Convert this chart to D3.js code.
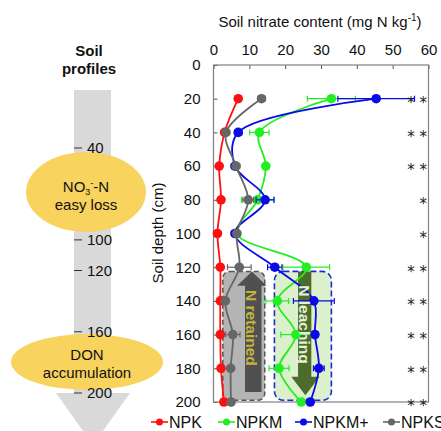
<!DOCTYPE html>
<html>
<head>
<meta charset="utf-8">
<script src="https://cdn.jsdelivr.net/npm/d3@7"></script>
<style>
  body { margin: 0; background: #fff; }
  text { font-family: "Liberation Sans", Arial, sans-serif; }
</style>
</head>
<body>
<svg id="chart" width="441" height="431"></svg>
<script>
// depths (cm) and nitrate content per treatment (mg N kg-1)
var depths = [20, 40, 60, 80, 100, 120, 140, 160, 180, 200];
var npk    = [6.9, 3.1, 1.6, 2.1, 1.1, 1.9, 1.9, 1.9, 2.1, 2.9];
var npkm   = [32.9, 12.8, 14.6, 12.3, 6.5, 25.9, 17.8, 23.0, 18.3, 24.5];
var npkmP  = [45.4, 6.9, 6.0, 14.4, 6.0, 17.1, 28.0, 28.3, 29.4, 27.0];
var npks   = [13.4, 3.5, 6.3, 9.7, 6.5, 7.2, 3.3, 5.4, 4.8, 4.9];
// error bars (sd)
var npkSd   = [0.5, 0.3, 0.3, 0.3, 0.3, 0.3, 0.3, 0.3, 0.3, 0.3];
var npkmSd  = [6.7, 2.7, 0.5, 4.5, 0.5, 6.5, 3.2, 4.2, 2.8, 0.5];
var npkmPSd = [10.7, 1.0, 1.0, 2.5, 1.0, 2.0, 5.7, 0.8, 1.5, 0.5];
var npksSd  = [1.0, 0.5, 1.0, 1.5, 0.8, 3.3, 0.5, 2.0, 0.5, 0.5];
var signif = ["* *", "* *", "* *", "*", "*", "* *", "* *", "* *", "* *", "* *"];
var xTicks = [0, 10, 20, 30, 40, 50, 60];
var yTicks = [0, 20, 40, 60, 80, 100, 120, 140, 160, 180, 200];
var profileTicks = [40, 100, 120, 160, 200];

var series = [
  {name: "NPK",   values: npk,   sd: npkSd,   color: "#ff1010"},
  {name: "NPKM",  values: npkm,  sd: npkmSd,  color: "#22ee22"},
  {name: "NPKM+", values: npkmP, sd: npkmPSd, color: "#0a0ae6"},
  {name: "NPKS",  values: npks,  sd: npksSd,  color: "#666666"}
];

var svg = d3.select("#chart");

// ---------- left: soil profile sketch ----------
var py = d3.scaleLinear().domain([40, 200]).range([148, 393]);
var left = svg.append("g");
left.append("rect").attr("x", 74).attr("y", 90).attr("width", 37)
  .attr("height", py(200) - 90).attr("fill", "#d9d9d9");
left.append("path")
  .attr("d", "M56," + py(200) + "L130," + py(200) + "L93," + (py(200) + 52) + "Z")
  .attr("fill", "#d9d9d9");

left.append("text").attr("x", 89).attr("y", 56).attr("text-anchor", "middle")
  .attr("font-size", 15).attr("font-weight", "bold").attr("fill", "#111").text("Soil");
left.append("text").attr("x", 89).attr("y", 74).attr("text-anchor", "middle")
  .attr("font-size", 15).attr("font-weight", "bold").attr("fill", "#111").text("profiles");

left.append("ellipse").attr("cx", 86).attr("cy", 192).attr("rx", 60).attr("ry", 40)
  .attr("fill", "#f8d35e");
var no3 = left.append("text").attr("x", 86).attr("y", 192).attr("text-anchor", "middle")
  .attr("font-size", 15).attr("fill", "#111");
no3.append("tspan").text("NO");
no3.append("tspan").attr("font-size", 9).attr("dy", 3).text("3");
no3.append("tspan").attr("font-size", 9).attr("dy", -9).text("-");
no3.append("tspan").attr("dy", 6).text("-N");
left.append("text").attr("x", 86).attr("y", 210).attr("text-anchor", "middle")
  .attr("font-size", 15).attr("fill", "#111").text("easy loss");

left.append("ellipse").attr("cx", 87).attr("cy", 362).attr("rx", 76).attr("ry", 28)
  .attr("fill", "#f8d35e");
left.append("text").attr("x", 87).attr("y", 360).attr("text-anchor", "middle")
  .attr("font-size", 15).attr("fill", "#111").text("DON");
left.append("text").attr("x", 87).attr("y", 378).attr("text-anchor", "middle")
  .attr("font-size", 15).attr("fill", "#111").text("accumulation");

left.selectAll(".ptick").data(profileTicks).enter().append("line")
  .attr("x1", 74).attr("x2", 82)
  .attr("y1", function(d){ return py(d); }).attr("y2", function(d){ return py(d); })
  .attr("stroke", "#333").attr("stroke-width", 1);
left.selectAll(".plab").data(profileTicks).enter().append("text")
  .attr("x", 87).attr("y", function(d){ return py(d); }).attr("dy", "0.35em")
  .attr("font-size", 15).attr("fill", "#111")
  .text(function(d){ return d; });

// ---------- right: nitrate profile chart ----------
var x = d3.scaleLinear().domain([0, 60]).range([213.5, 428.5]);
var y = d3.scaleLinear().domain([0, 200]).range([65, 402]);

svg.append("g").attr("transform", "translate(0,65)")
  .call(d3.axisTop(x).tickValues(xTicks).tickSizeInner(-4).tickSizeOuter(0).tickPadding(10))
  .call(function(g){
    g.select(".domain").remove();
    g.selectAll("line").attr("stroke", "#555");
    g.selectAll("text").attr("font-size", 15).attr("fill", "#111");
  });
svg.append("g").attr("transform", "translate(213.5,0)")
  .call(d3.axisLeft(y).tickValues(yTicks).tickSizeInner(-4).tickSizeOuter(0).tickPadding(13))
  .call(function(g){
    g.select(".domain").remove();
    g.selectAll("line").attr("stroke", "#555");
    g.selectAll("text").attr("font-size", 15).attr("fill", "#111");
  });

svg.append("rect").attr("x", x(0)).attr("y", y(0))
  .attr("width", x(60) - x(0)).attr("height", y(200) - y(0))
  .attr("fill", "none").attr("stroke", "#808080").attr("stroke-width", 1.2);

var title = svg.append("text").attr("x", 320).attr("y", 27).attr("text-anchor", "middle")
  .attr("font-size", 15).attr("fill", "#111");
title.append("tspan").text("Soil nitrate content (mg N kg");
title.append("tspan").attr("font-size", 10).attr("dy", -6).text("-1");
title.append("tspan").attr("dy", 6).text(")");

svg.append("text").attr("transform", "translate(163,233) rotate(-90)")
  .attr("text-anchor", "middle").attr("font-size", 15).attr("fill", "#111")
  .text("Soil depth (cm)");

// annotation boxes
svg.append("rect").attr("x", x(2.6)).attr("y", y(122.5))
  .attr("width", x(14.3) - x(2.6)).attr("height", y(199) - y(122.5))
  .attr("rx", 7).attr("fill", "#b4b4b4").attr("stroke", "#555")
  .attr("stroke-width", 1.5).attr("stroke-dasharray", "5,3");
svg.append("rect").attr("x", x(17)).attr("y", y(122.5))
  .attr("width", x(32.9) - x(17)).attr("height", y(199) - y(122.5))
  .attr("rx", 9).attr("fill", "#dcf0cc").attr("stroke", "#1a2ed0")
  .attr("stroke-width", 1.6).attr("stroke-dasharray", "6,3");

function arrowPath(xl, xr, hl, hr, yStart, yHead, yTip) {
  var xm = (hl + hr) / 2;
  return "M" + x(xl) + "," + y(yStart) + "L" + x(xl) + "," + y(yHead) +
    "L" + x(hl) + "," + y(yHead) + "L" + x(xm) + "," + y(yTip) +
    "L" + x(hr) + "," + y(yHead) + "L" + x(xr) + "," + y(yHead) +
    "L" + x(xr) + "," + y(yStart) + "Z";
}
svg.append("path").attr("d", arrowPath(8.8, 13.4, 6.6, 14.8, 194, 131, 122.5))
  .attr("fill", "#505050");
svg.append("path").attr("d", arrowPath(23.6, 27.3, 21.7, 29.6, 122.5, 185, 196))
  .attr("fill", "#4d6b2c");

// lines, error bars and points
var line = d3.line()
  .x(function(d){ return x(d.v); })
  .y(function(d){ return y(d.depth); })
  .curve(d3.curveCatmullRom.alpha(0.5));

series.forEach(function(s){
  var pts = depths.map(function(d, i){ return {depth: d, v: s.values[i], sd: s.sd[i]}; });
  var g = svg.append("g");
  g.append("path").attr("d", line(pts)).attr("fill", "none")
    .attr("stroke", s.color).attr("stroke-width", 1.8);
  var eb = g.selectAll(".eb").data(pts).enter().append("g");
  eb.append("line")
    .attr("x1", function(d){ return x(Math.max(0, d.v - d.sd)); })
    .attr("x2", function(d){ return x(d.v + d.sd); })
    .attr("y1", function(d){ return y(d.depth); }).attr("y2", function(d){ return y(d.depth); })
    .attr("stroke", s.color).attr("stroke-width", 1.2);
  [-1, 1].forEach(function(k){
    eb.append("line")
      .attr("x1", function(d){ return x(Math.max(0, d.v + k * d.sd)); })
      .attr("x2", function(d){ return x(Math.max(0, d.v + k * d.sd)); })
      .attr("y1", function(d){ return y(d.depth) - 3; })
      .attr("y2", function(d){ return y(d.depth) + 3; })
      .attr("stroke", s.color).attr("stroke-width", 1.2);
  });
  g.selectAll("circle").data(pts).enter().append("circle")
    .attr("cx", function(d){ return x(d.v); }).attr("cy", function(d){ return y(d.depth); })
    .attr("r", 4.8).attr("fill", s.color);
});

// annotation texts
svg.append("text").attr("transform", "translate(" + (x(10.6) - 5.5) + "," + y(156) + ") rotate(90)")
  .attr("text-anchor", "middle").attr("font-size", 15.5).attr("font-weight", "bold")
  .attr("fill", "#c4b43c").text("N retained");
svg.append("text").attr("transform", "translate(" + (x(25.4) - 5.5) + "," + y(154) + ") rotate(90)")
  .attr("text-anchor", "middle").attr("font-size", 15.5).attr("font-weight", "bold")
  .attr("fill", "#e4f2d6").text("N leaching");

// significance marks
svg.selectAll(".sig").data(depths).enter().append("text")
  .attr("x", 427).attr("y", function(d){ return y(d); }).attr("dy", "0.62em")
  .attr("text-anchor", "end").attr("font-size", 15).attr("fill", "#222")
  .style("font-family", "'DejaVu Sans', sans-serif")
  .text(function(d, i){ return signif[i]; });

// legend
var legX = [151, 218, 295, 383];
var leg = svg.selectAll(".leg").data(series).enter().append("g")
  .attr("transform", function(d, i){ return "translate(" + legX[i] + ",422)"; });
leg.append("line").attr("x1", 0).attr("x2", 17).attr("y1", 0).attr("y2", 0)
  .attr("stroke", function(d){ return d.color; }).attr("stroke-width", 1.6);
leg.append("circle").attr("cx", 8.5).attr("cy", 0).attr("r", 3.5)
  .attr("fill", function(d){ return d.color; });
leg.append("text").attr("x", 18).attr("y", 0).attr("dy", "0.36em")
  .attr("font-size", 16).attr("fill", "#111").text(function(d){ return d.name; });
</script>
</body>
</html>
